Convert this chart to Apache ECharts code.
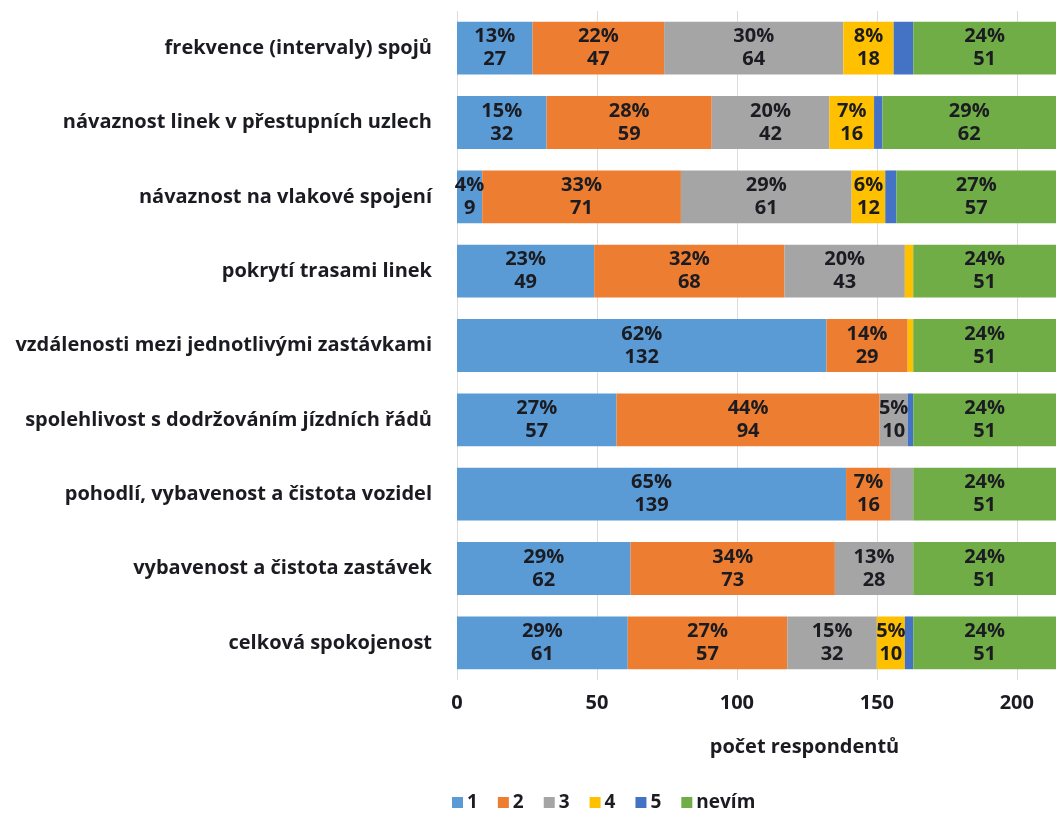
<!DOCTYPE html>
<html>
<head>
<meta charset="utf-8">
<script src="https://cdn.jsdelivr.net/npm/echarts@6/dist/echarts.min.js"></script>
<style>
  html, body { margin: 0; padding: 0; background: #ffffff; }
  #chart { width: 1059px; height: 815px; }
</style>
</head>
<body>
<div id="chart"></div>
<script>
// Hodnocení MHD – počty respondentů podle známky (1 = nejlepší, 5 = nejhorší)
const categories = [
  'frekvence (intervaly) spojů',
  'návaznost linek v přestupních uzlech',
  'návaznost na vlakové spojení',
  'pokrytí trasami linek',
  'vzdálenosti mezi jednotlivými zastávkami',
  'spolehlivost s dodržováním jízdních řádů',
  'pohodlí, vybavenost a čistota vozidel',
  'vybavenost a čistota zastávek',
  'celková spokojenost'
];

const seriesNames = ['1', '2', '3', '4', '5', 'nevím'];

const grade1 = [27, 32, 9, 49, 132, 57, 139, 62, 61];
const grade2 = [47, 59, 71, 68, 29, 94, 16, 73, 57];
const grade3 = [64, 42, 61, 43, 0, 10, 8, 28, 32];
const grade4 = [18, 16, 12, 3, 2, 0, 0, 0, 10];
const grade5 = [7, 3, 4, 0, 0, 2, 0, 0, 3];
const unknown = [51, 62, 57, 51, 51, 51, 51, 51, 51];

const xTicks = [0, 50, 100, 150, 200];
const totalRespondents = 214;

const colors = ['#5B9BD5', '#ED7D31', '#A5A5A5', '#FFC000', '#4472C4', '#70AD47'];
const seriesValues = [grade1, grade2, grade3, grade4, grade5, unknown];

const FONT = '"Open Sans", "DejaVu Sans", sans-serif';
const TEXT = '#1b1b22';

const series = seriesValues.map((vals, i) => ({
  name: seriesNames[i],
  type: 'bar',
  stack: 'total',
  barCategoryGap: '29%',
  data: vals,
  itemStyle: { color: colors[i] },
  label: {
    show: true,
    position: 'inside',
    fontFamily: FONT,
    fontWeight: 700,
    fontSize: 20,
    lineHeight: 23,
    color: TEXT,
    formatter: p => p.value >= 9
      ? Math.round(p.value / totalRespondents * 100) + '%\n' + p.value
      : ''
  },
  labelLayout: { hideOverlap: false }
}));

const chart = echarts.init(document.getElementById('chart'), null, { renderer: 'canvas' });
chart.setOption({
  animation: false,
  backgroundColor: '#ffffff',
  color: colors,
  grid: { left: 457, width: 599, top: 11, bottom: 135, containLabel: false },
  legend: {
    data: seriesNames,
    left: 447,
    top: 788,
    itemWidth: 11,
    itemHeight: 11,
    itemGap: 20,
    icon: 'rect',
    textStyle: { fontFamily: FONT, fontWeight: 700, fontSize: 19, color: TEXT, padding: [0, 0, 0, -1] }
  },
  xAxis: {
    type: 'value',
    min: 0,
    max: 214,
    interval: 50,
    axisLine: { show: false },
    axisTick: { show: false },
    splitLine: { show: true, showMaxLine: false, lineStyle: { color: '#dcdcdc', width: 1 } },
    axisLabel: {
      fontFamily: FONT,
      fontWeight: 700,
      fontSize: 20,
      color: TEXT,
      margin: 13,
      showMaxLabel: false,
      formatter: v => xTicks.indexOf(v) >= 0 ? String(v) : ''
    },
    name: 'počet respondentů',
    nameLocation: 'middle',
    nameGap: 57,
    nameTextStyle: {
      fontFamily: FONT,
      fontWeight: 700,
      fontSize: 20,
      color: TEXT,
      padding: [0, 0, 0, 96]
    }
  },
  yAxis: {
    type: 'category',
    data: categories,
    inverse: true,
    axisLine: { show: false },
    axisTick: { show: false },
    splitLine: { show: false },
    axisLabel: {
      fontFamily: FONT,
      fontWeight: 700,
      fontSize: 20,
      color: TEXT,
      margin: 25
    }
  },
  series: series
});
</script>
</body>
</html>
